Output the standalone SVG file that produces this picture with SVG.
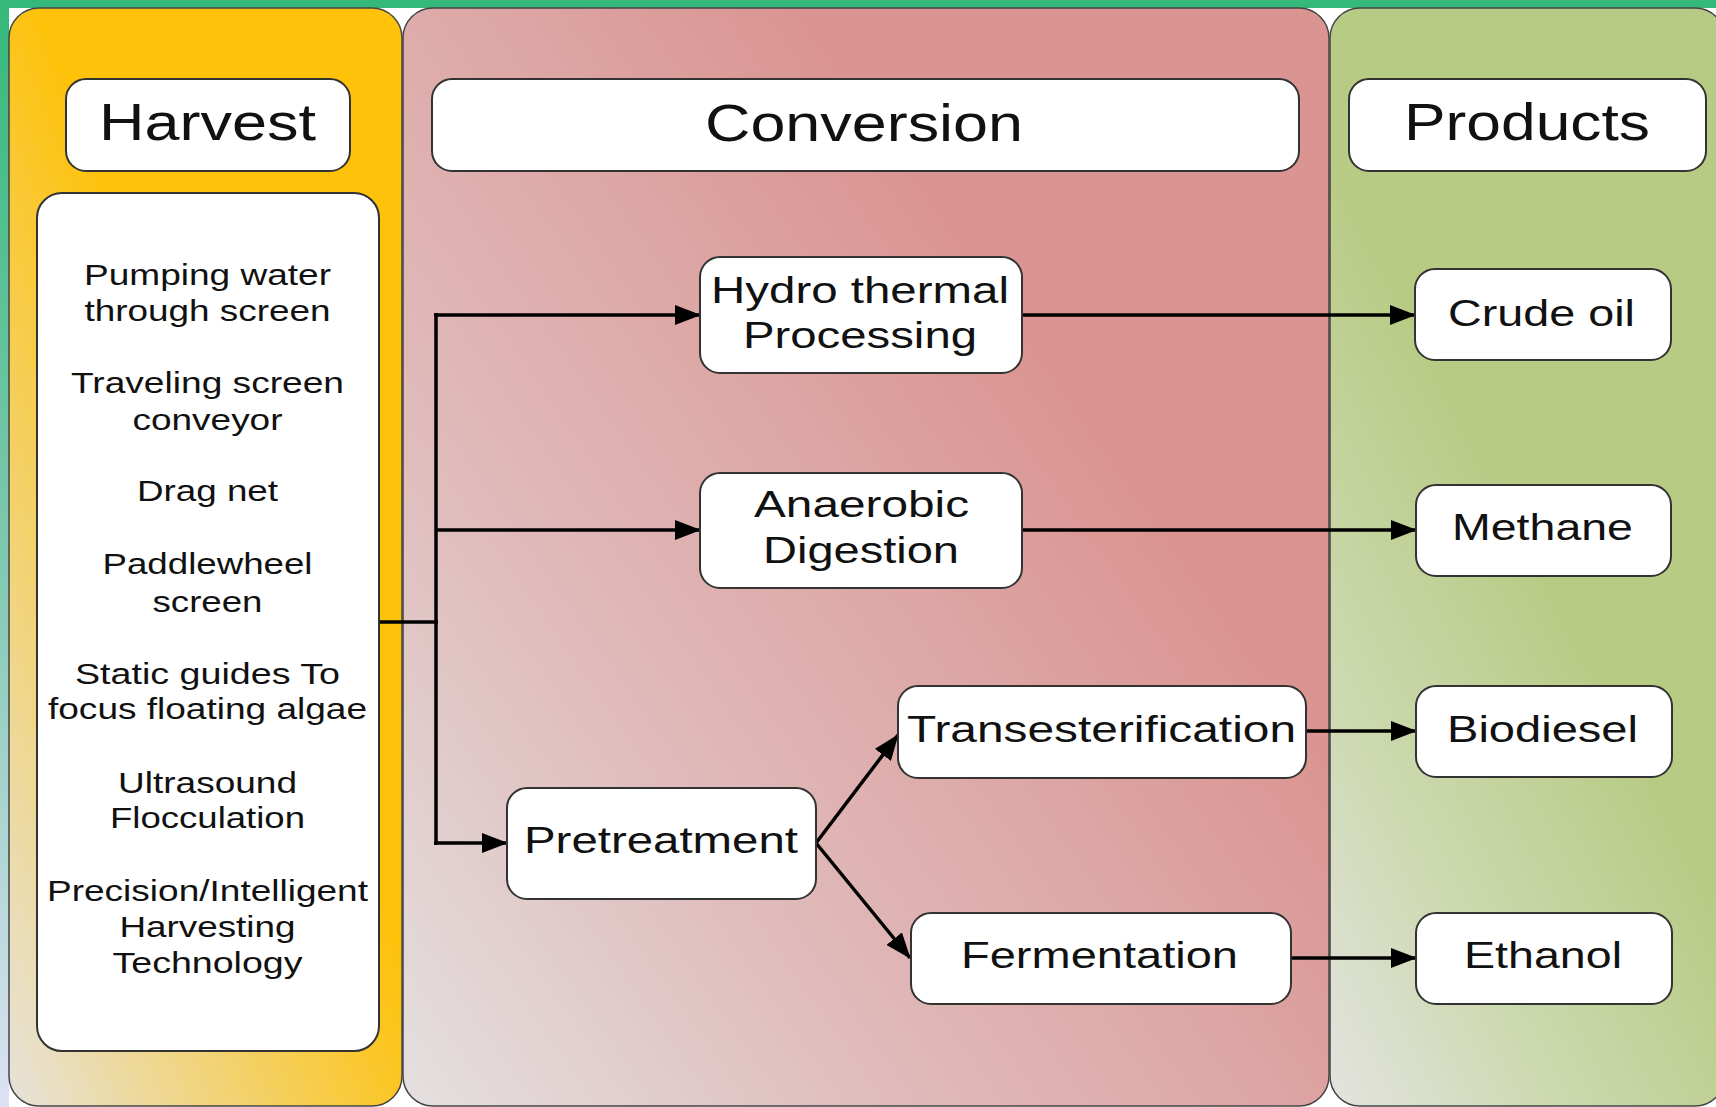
<svg xmlns="http://www.w3.org/2000/svg" width="1716" height="1107" viewBox="0 0 1716 1107">
  <defs>
    <linearGradient id="gLeft" x1="0" y1="0" x2="0" y2="1">
      <stop offset="0" stop-color="#35B97A"/>
      <stop offset="0.5" stop-color="#7FC8B0"/>
      <stop offset="1" stop-color="#DCE2F4"/>
    </linearGradient>
    <linearGradient id="gHarvest" gradientUnits="userSpaceOnUse" x1="10" y1="1100" x2="400" y2="950">
      <stop offset="0" stop-color="#E6E2DA"/>
      <stop offset="0.45" stop-color="#F1D47C"/>
      <stop offset="1" stop-color="#FEC20B"/>
    </linearGradient>
    <linearGradient id="gConv" gradientUnits="userSpaceOnUse" x1="403" y1="1105" x2="1180" y2="560">
      <stop offset="0" stop-color="#E4E0E0"/>
      <stop offset="0.4" stop-color="#E0BDBD"/>
      <stop offset="1" stop-color="#DA9592"/>
    </linearGradient>
    <linearGradient id="gProd" gradientUnits="userSpaceOnUse" x1="1330" y1="1100" x2="1716" y2="900">
      <stop offset="0" stop-color="#E3E3DF"/>
      <stop offset="0.45" stop-color="#CDD9B0"/>
      <stop offset="1" stop-color="#B8CB85"/>
    </linearGradient>
    <marker id="arrow" markerUnits="userSpaceOnUse" markerWidth="26" markerHeight="20" refX="25" refY="10" orient="auto" viewBox="0 0 26 20">
      <path d="M0,0 L26,10 L0,20 z" fill="#000"/>
    </marker>
    <style>
      .panel { stroke: #444; stroke-width: 1.5; }
      .box { fill: #fff; stroke: #333; stroke-width: 2; }
      .hdr { font-family: "Liberation Sans", Arial, sans-serif; font-size: 52px; fill: #111; text-anchor: middle; }
      .lbl { font-family: "Liberation Sans", Arial, sans-serif; font-size: 37px; fill: #111; text-anchor: middle; }
      .lst { font-family: "Liberation Sans", Arial, sans-serif; font-size: 30px; fill: #111; text-anchor: middle; }
      .conn { stroke: #000; stroke-width: 3.5; fill: none; }
      .arr { marker-end: url(#arrow); }
    </style>
  </defs>

  <rect x="0" y="0" width="1716" height="1107" fill="#fff"/>
  <rect x="0" y="0" width="1716" height="8" fill="#35B97A"/>
  <rect x="0" y="0" width="9" height="1107" fill="url(#gLeft)"/>

  <g id="panels">
    <rect id="panel-harvest" class="panel" x="9" y="8" width="393" height="1098" rx="30" fill="url(#gHarvest)"/>
    <rect id="panel-conversion" class="panel" x="403" y="8" width="926" height="1098" rx="30" fill="url(#gConv)"/>
    <rect id="panel-products" class="panel" x="1330" y="8" width="395" height="1098" rx="30" fill="url(#gProd)"/>
  </g>

  <g id="connectors">
    <path class="conn" d="M377,622 H438"/>
    <path class="conn" d="M436,313 V845"/>
    <path class="conn arr" d="M434,315 H700"/>
    <path class="conn arr" d="M436,530 H700"/>
    <path class="conn arr" d="M434,843 H507"/>
    <path class="conn arr" d="M1022,315 H1415"/>
    <path class="conn arr" d="M1022,530 H1416"/>
    <path class="conn arr" d="M816,843 L898,735"/>
    <path class="conn arr" d="M816,843 L910,958"/>
    <path class="conn arr" d="M1306,731 H1416"/>
    <path class="conn arr" d="M1291,958 H1416"/>
  </g>

  <g id="hdr-harvest">
    <rect class="box" x="66" y="79" width="284" height="92" rx="20"/>
    <text class="hdr" x="207.5" y="140" textLength="217" lengthAdjust="spacingAndGlyphs">Harvest</text>
  </g>
  <g id="hdr-conversion">
    <rect class="box" x="432" y="79" width="867" height="92" rx="20"/>
    <text class="hdr" x="864" y="141" textLength="318" lengthAdjust="spacingAndGlyphs">Conversion</text>
  </g>
  <g id="hdr-products">
    <rect class="box" x="1349" y="79" width="357" height="92" rx="20"/>
    <text class="hdr" x="1527" y="140" textLength="246" lengthAdjust="spacingAndGlyphs">Products</text>
  </g>

  <g id="harvest-methods">
    <rect class="box" x="37" y="193" width="342" height="858" rx="25"/>
    <text class="lst" x="207.5" y="285" textLength="247" lengthAdjust="spacingAndGlyphs">Pumping water</text>
    <text class="lst" x="207.5" y="321" textLength="246" lengthAdjust="spacingAndGlyphs">through screen</text>
    <text class="lst" x="207.5" y="393" textLength="273" lengthAdjust="spacingAndGlyphs">Traveling screen</text>
    <text class="lst" x="207.5" y="430" textLength="150" lengthAdjust="spacingAndGlyphs">conveyor</text>
    <text class="lst" x="207.5" y="501" textLength="141" lengthAdjust="spacingAndGlyphs">Drag net</text>
    <text class="lst" x="207.5" y="574" textLength="210" lengthAdjust="spacingAndGlyphs">Paddlewheel</text>
    <text class="lst" x="207.5" y="612" textLength="110" lengthAdjust="spacingAndGlyphs">screen</text>
    <text class="lst" x="207.5" y="684" textLength="265" lengthAdjust="spacingAndGlyphs">Static guides To</text>
    <text class="lst" x="207.5" y="719" textLength="319" lengthAdjust="spacingAndGlyphs">focus floating algae</text>
    <text class="lst" x="207.5" y="793" textLength="179" lengthAdjust="spacingAndGlyphs">Ultrasound</text>
    <text class="lst" x="207.5" y="828" textLength="195" lengthAdjust="spacingAndGlyphs">Flocculation</text>
    <text class="lst" x="207.5" y="901" textLength="321" lengthAdjust="spacingAndGlyphs">Precision/Intelligent</text>
    <text class="lst" x="207.5" y="937" textLength="176" lengthAdjust="spacingAndGlyphs">Harvesting</text>
    <text class="lst" x="207.5" y="973" textLength="190" lengthAdjust="spacingAndGlyphs">Technology</text>
  </g>

  <g id="node-hydrothermal">
    <rect class="box" x="700" y="257" width="322" height="116" rx="20"/>
    <text class="lbl" x="860" y="303" textLength="298" lengthAdjust="spacingAndGlyphs">Hydro thermal</text>
    <text class="lbl" x="860" y="348" textLength="234" lengthAdjust="spacingAndGlyphs">Processing</text>
  </g>
  <g id="node-anaerobic">
    <rect class="box" x="700" y="473" width="322" height="115" rx="20"/>
    <text class="lbl" x="861.5" y="517" textLength="215" lengthAdjust="spacingAndGlyphs">Anaerobic</text>
    <text class="lbl" x="861" y="563" textLength="196" lengthAdjust="spacingAndGlyphs">Digestion</text>
  </g>
  <g id="node-pretreatment">
    <rect class="box" x="507" y="788" width="309" height="111" rx="20"/>
    <text class="lbl" x="661" y="853" textLength="274" lengthAdjust="spacingAndGlyphs">Pretreatment</text>
  </g>
  <g id="node-transesterification">
    <rect class="box" x="898" y="686" width="408" height="92" rx="20"/>
    <text class="lbl" x="1101.5" y="742" textLength="389" lengthAdjust="spacingAndGlyphs">Transesterification</text>
  </g>
  <g id="node-fermentation">
    <rect class="box" x="911" y="913" width="380" height="91" rx="20"/>
    <text class="lbl" x="1099.5" y="968" textLength="277" lengthAdjust="spacingAndGlyphs">Fermentation</text>
  </g>

  <g id="node-crudeoil">
    <rect class="box" x="1415" y="269" width="256" height="91" rx="20"/>
    <text class="lbl" x="1541.5" y="326" textLength="187" lengthAdjust="spacingAndGlyphs">Crude oil</text>
  </g>
  <g id="node-methane">
    <rect class="box" x="1416" y="485" width="255" height="91" rx="20"/>
    <text class="lbl" x="1542.5" y="540" textLength="181" lengthAdjust="spacingAndGlyphs">Methane</text>
  </g>
  <g id="node-biodiesel">
    <rect class="box" x="1416" y="686" width="256" height="91" rx="20"/>
    <text class="lbl" x="1542.5" y="742" textLength="191" lengthAdjust="spacingAndGlyphs">Biodiesel</text>
  </g>
  <g id="node-ethanol">
    <rect class="box" x="1416" y="913" width="256" height="91" rx="20"/>
    <text class="lbl" x="1543" y="968" textLength="158" lengthAdjust="spacingAndGlyphs">Ethanol</text>
  </g>
</svg>
